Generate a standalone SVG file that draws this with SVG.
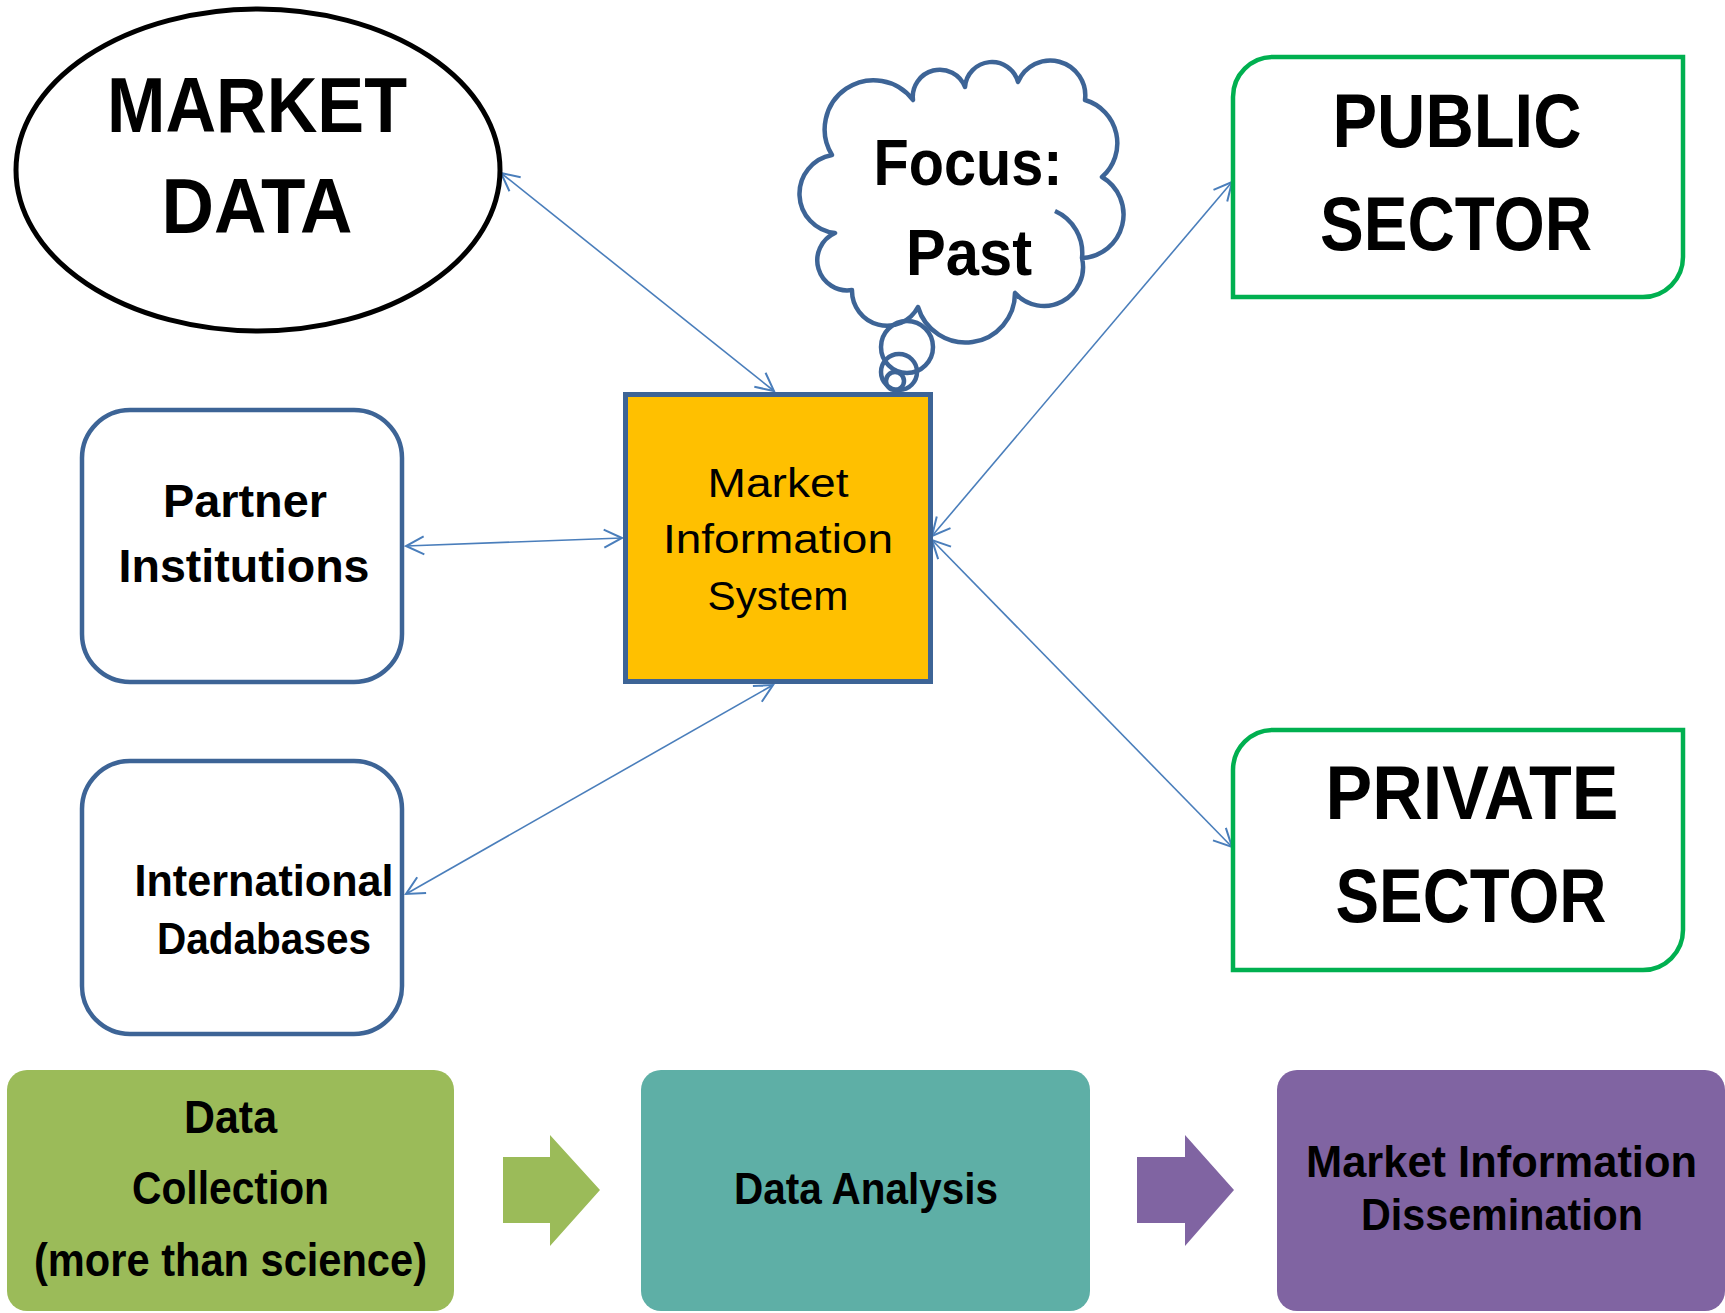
<svg xmlns="http://www.w3.org/2000/svg" width="1725" height="1313" viewBox="0 0 1725 1313">
  <style>
    .lbl { font-family: "Liberation Sans", Arial, sans-serif; fill: #000; text-anchor: middle; }
    .b { font-weight: bold; }
    .edge { fill: none; stroke: #4A7EBB; stroke-width: 1.6; marker-start: url(#arr); marker-end: url(#arr); }
    .blue-box { fill: #fff; stroke: #3D6496; stroke-width: 4.5; }
    .green-box { fill: #fff; stroke: #00B050; stroke-width: 4.5; }
    .cloud { fill: #fff; stroke: #3D6496; stroke-width: 4.5; stroke-linejoin: round; }
    .bubble { fill: none; stroke: #3D6496; stroke-width: 4.5; }
  </style>
  <defs>
    <marker id="arr" viewBox="-22 -12 24 24" refX="0" refY="0" markerWidth="24" markerHeight="24" markerUnits="userSpaceOnUse" orient="auto-start-reverse">
      <path d="M-18,-9 L0,0 L-18,9" fill="none" stroke="#4A7EBB" stroke-width="2"/>
    </marker>
  </defs>

  <rect width="1725" height="1313" fill="#fff"/>

  <!-- connectors -->
  <g id="connectors">
    <line class="edge" x1="501" y1="173" x2="774" y2="391"/>
    <line class="edge" x1="406" y1="546" x2="622" y2="538"/>
    <line class="edge" x1="406" y1="894" x2="773" y2="685"/>
    <line class="edge" x1="932" y1="536" x2="1232" y2="182"/>
    <line class="edge" x1="932" y1="540" x2="1232" y2="847"/>
  </g>

  <g id="market-data">
    <ellipse cx="258" cy="170" rx="242" ry="161" fill="#fff" stroke="#000" stroke-width="5"/>
    <text class="lbl b" x="257" y="132" font-size="78" textLength="300" lengthAdjust="spacingAndGlyphs">MARKET</text>
    <text class="lbl b" x="257" y="233" font-size="78" textLength="191" lengthAdjust="spacingAndGlyphs">DATA</text>
  </g>

  <g id="focus-cloud">
    <path class="cloud" d="M832,155 A49,49 0 0 1 913,100 A27,27 0 0 1 965,87 A27,27 0 0 1 1018,82 A35,35 0 0 1 1085,100 A45,45 0 0 1 1102,177 A43.5,43.5 0 0 1 1082,258 A39,39 0 0 1 1015,293 A49.5,49.5 0 0 1 918,307 A35,35 0 0 1 852,290 A30,30 0 0 1 835,233 A39.4,39.4 0 0 1 832,155 Z"/>
    <path class="bubble" d="M1055,211 A46,46 0 0 1 1082,258"/>
    <circle class="bubble" cx="907" cy="347" r="26"/>
    <circle class="bubble" cx="899" cy="372" r="18"/>
    <circle class="bubble" cx="895" cy="381" r="9"/>
    <text class="lbl b" x="968" y="185" font-size="65" textLength="189" lengthAdjust="spacingAndGlyphs">Focus:</text>
    <text class="lbl b" x="969" y="275" font-size="65" textLength="126" lengthAdjust="spacingAndGlyphs">Past</text>
  </g>

  <g id="public-sector">
    <path class="green-box" d="M1273,57 L1683,57 L1683,257 A40,40 0 0 1 1643,297 L1233,297 L1233,97 A40,40 0 0 1 1273,57 Z"/>
    <text class="lbl b" x="1457" y="147" font-size="76" textLength="249" lengthAdjust="spacingAndGlyphs">PUBLIC</text>
    <text class="lbl b" x="1456" y="250" font-size="76" textLength="272" lengthAdjust="spacingAndGlyphs">SECTOR</text>
  </g>

  <g id="private-sector">
    <path class="green-box" d="M1273,730 L1683,730 L1683,930 A40,40 0 0 1 1643,970 L1233,970 L1233,770 A40,40 0 0 1 1273,730 Z"/>
    <text class="lbl b" x="1472" y="819" font-size="76" textLength="293" lengthAdjust="spacingAndGlyphs">PRIVATE</text>
    <text class="lbl b" x="1471" y="922" font-size="76" textLength="271" lengthAdjust="spacingAndGlyphs">SECTOR</text>
  </g>

  <g id="partner-institutions">
    <rect class="blue-box" x="82" y="410" width="320" height="272" rx="48" ry="48"/>
    <text class="lbl b" x="245" y="517" font-size="46" textLength="164" lengthAdjust="spacingAndGlyphs">Partner</text>
    <text class="lbl b" x="244" y="582" font-size="46" textLength="251" lengthAdjust="spacingAndGlyphs">Institutions</text>
  </g>

  <g id="international-databases">
    <rect class="blue-box" x="82" y="761" width="320" height="273" rx="48" ry="48"/>
    <text class="lbl b" x="264" y="896" font-size="44" textLength="259" lengthAdjust="spacingAndGlyphs">International</text>
    <text class="lbl b" x="264" y="954" font-size="44" textLength="214" lengthAdjust="spacingAndGlyphs">Dadabases</text>
  </g>

  <g id="market-information-system">
    <rect x="625.5" y="394.5" width="305" height="287" fill="#FFC000" stroke="#3D6496" stroke-width="5"/>
    <text class="lbl" x="778" y="497" font-size="41" textLength="141" lengthAdjust="spacingAndGlyphs">Market</text>
    <text class="lbl" x="778" y="553" font-size="41" textLength="230" lengthAdjust="spacingAndGlyphs">Information</text>
    <text class="lbl" x="778" y="610" font-size="41" textLength="141" lengthAdjust="spacingAndGlyphs">System</text>
  </g>

  <g id="data-collection">
    <rect x="7" y="1070" width="447" height="241" rx="20" ry="20" fill="#9BBB59"/>
    <text class="lbl b" x="230.5" y="1133" font-size="46" textLength="93" lengthAdjust="spacingAndGlyphs">Data</text>
    <text class="lbl b" x="230.5" y="1204" font-size="46" textLength="197" lengthAdjust="spacingAndGlyphs">Collection</text>
    <text class="lbl b" x="230.5" y="1276" font-size="46" textLength="393" lengthAdjust="spacingAndGlyphs">(more than science)</text>
  </g>

  <g id="step-arrow-1">
    <polygon points="503,1157 550,1157 550,1135 600,1190 550,1246 550,1223 503,1223" fill="#9BBB59"/>
  </g>

  <g id="data-analysis">
    <rect x="641" y="1070" width="449" height="241" rx="20" ry="20" fill="#5EAFA6"/>
    <text class="lbl b" x="866" y="1204" font-size="45" textLength="264" lengthAdjust="spacingAndGlyphs">Data Analysis</text>
  </g>

  <g id="step-arrow-2">
    <polygon points="1137,1157 1185,1157 1185,1135 1234,1190 1185,1246 1185,1223 1137,1223" fill="#8064A2"/>
  </g>

  <g id="dissemination">
    <rect x="1277" y="1070" width="448" height="241" rx="20" ry="20" fill="#8064A2"/>
    <text class="lbl b" x="1501.5" y="1177" font-size="45" textLength="391" lengthAdjust="spacingAndGlyphs">Market Information</text>
    <text class="lbl b" x="1502" y="1230" font-size="45" textLength="282" lengthAdjust="spacingAndGlyphs">Dissemination</text>
  </g>
</svg>
